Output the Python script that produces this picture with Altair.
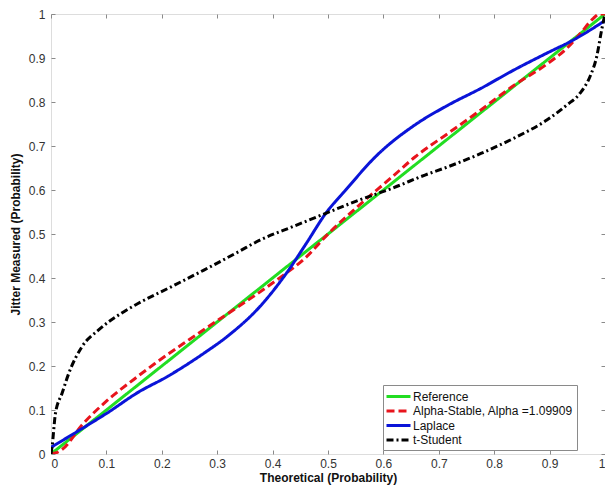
import altair as alt
import pandas as pd

# ---- data ----
series_names = ["Reference", "Alpha-Stable, Alpha =1.09909", "Laplace", "t-Student"]
series_colors = ["#22dd22", "#e8141c", "#0a14d8", "#000000"]
series_dash = [[1, 0], [8, 4], [1, 0], [7, 3, 2, 3]]

ref_x = [0.0, 1.0]
ref_y = [0.0, 1.0]

alpha_x = [0.0, 0.01, 0.02, 0.056, 0.1, 0.15, 0.187, 0.246, 0.3, 0.336, 0.407, 0.461,
           0.5, 0.556, 0.616, 0.657, 0.717, 0.776, 0.836, 0.895, 0.931, 0.955, 0.979, 0.99, 1.0]
alpha_y = [0.0, 0.003, 0.01, 0.066, 0.12, 0.17, 0.205, 0.257, 0.303, 0.333, 0.395, 0.448,
           0.5, 0.565, 0.63, 0.675, 0.729, 0.782, 0.838, 0.886, 0.922, 0.955, 0.99, 1.0, 1.0]

laplace_x = [0.0, 0.068, 0.1, 0.157, 0.21, 0.276, 0.318, 0.377, 0.425, 0.461, 0.496, 0.532,
             0.586, 0.657, 0.717, 0.776, 0.836, 0.895, 0.943, 1.0]
laplace_y = [0.015, 0.067, 0.092, 0.14, 0.176, 0.229, 0.267, 0.335, 0.411, 0.479, 0.547, 0.6,
             0.676, 0.748, 0.793, 0.831, 0.873, 0.911, 0.941, 0.985]

tstud_x = [0.0, 0.002, 0.008, 0.02, 0.032, 0.056, 0.086, 0.127, 0.157, 0.217, 0.276, 0.336,
           0.377, 0.437, 0.496, 0.556, 0.616, 0.675, 0.717, 0.776, 0.836, 0.895, 0.931, 0.955,
           0.973, 0.985, 0.994, 1.0]
tstud_y = [0.0, 0.017, 0.092, 0.138, 0.183, 0.244, 0.282, 0.32, 0.342, 0.38, 0.418, 0.458,
           0.486, 0.517, 0.547, 0.577, 0.604, 0.634, 0.653, 0.683, 0.718, 0.759, 0.793, 0.82,
           0.858, 0.903, 0.964, 1.0]

tick_values = [0, 0.1, 0.2, 0.3, 0.4, 0.5, 0.6, 0.7, 0.8, 0.9, 1]

rows = []
for name, xs, ys in zip(series_names,
                        [ref_x, alpha_x, laplace_x, tstud_x],
                        [ref_y, alpha_y, laplace_y, tstud_y]):
    for i, (a, b) in enumerate(zip(xs, ys)):
        rows.append({"series": name, "x": a, "y": b, "order": i})
df = pd.DataFrame(rows)

W, H = 554, 440
PAD_L = 43
FONT = "Liberation Sans"
GRAY = "#8a8a8a"

xscale = alt.Scale(domain=[0, 1], nice=False, zero=False)
yscale = alt.Scale(domain=[0, 1], nice=False, zero=False)

legend = alt.Legend(
    orient="none", legendX=W - 222, legendY=371, title=None,
    fillColor="white", strokeColor=GRAY, padding=4,
    symbolType="M-2,0H2", symbolStrokeWidth=3, symbolSize=144,
    symbolOffset=4,
    labelFont=FONT, labelFontSize=12, labelColor="#111111",
    labelOffset=7, rowPadding=0.5,
)

lines = alt.Chart(df).mark_line(strokeWidth=3, clip=True, interpolate="monotone").encode(
    x=alt.X("x:Q", scale=xscale,
            axis=alt.Axis(orient="bottom", values=tick_values, format=".1~f",
                          ticks=False, tickSize=0, domain=False, grid=False,
                          labelPadding=4, labelFont=FONT, labelFontSize=12,
                          labelColor="#333333", title="Theoretical (Probability)",
                          titleFont=FONT, titleFontSize=12, titleFontWeight="bold",
                          titleColor="#111111", titlePadding=3)),
    y=alt.Y("y:Q", scale=yscale,
            axis=alt.Axis(orient="left", values=tick_values, format=".1~f",
                          ticks=False, tickSize=0, domain=False, grid=False,
                          labelPadding=6, labelFont=FONT, labelFontSize=12,
                          labelColor="#333333", title="Jitter Measured (Probability)",
                          titleFont=FONT, titleFontSize=12, titleFontWeight="bold",
                          titleColor="#111111", titlePadding=6)),
    color=alt.Color("series:N", scale=alt.Scale(domain=series_names, range=series_colors),
                    legend=legend),
    strokeDash=alt.StrokeDash("series:N", scale=alt.Scale(domain=series_names, range=series_dash),
                              legend=legend),
    order="order:Q",
)

def tick_layer(x_orient, y_orient):
    return alt.Chart(df).mark_point(opacity=0).encode(
        x=alt.X("x:Q", scale=xscale,
                axis=alt.Axis(orient=x_orient, offset=-H, values=tick_values, labels=False,
                              domain=False, grid=False, ticks=True, tickSize=4,
                              tickColor=GRAY, tickWidth=1, title="")),
        y=alt.Y("y:Q", scale=yscale,
                axis=alt.Axis(orient=y_orient, offset=-W, values=tick_values, labels=False,
                              domain=False, grid=False, ticks=True, tickSize=4,
                              tickColor=GRAY, tickWidth=1, title="")),
    )

chart = alt.layer(
    lines,
    tick_layer("top", "right"),
    tick_layer("bottom", "left"),
).resolve_axis(x="independent", y="independent").properties(
    width=W, height=H,
    autosize=alt.AutoSizeParams(type="none"),
    padding={"left": PAD_L, "top": 6, "right": 0, "bottom": 34},
).configure_view(stroke=GRAY, strokeWidth=1.5).configure(background="white")

chart.save("out.html", embed_options={"renderer": "svg", "actions": False})
